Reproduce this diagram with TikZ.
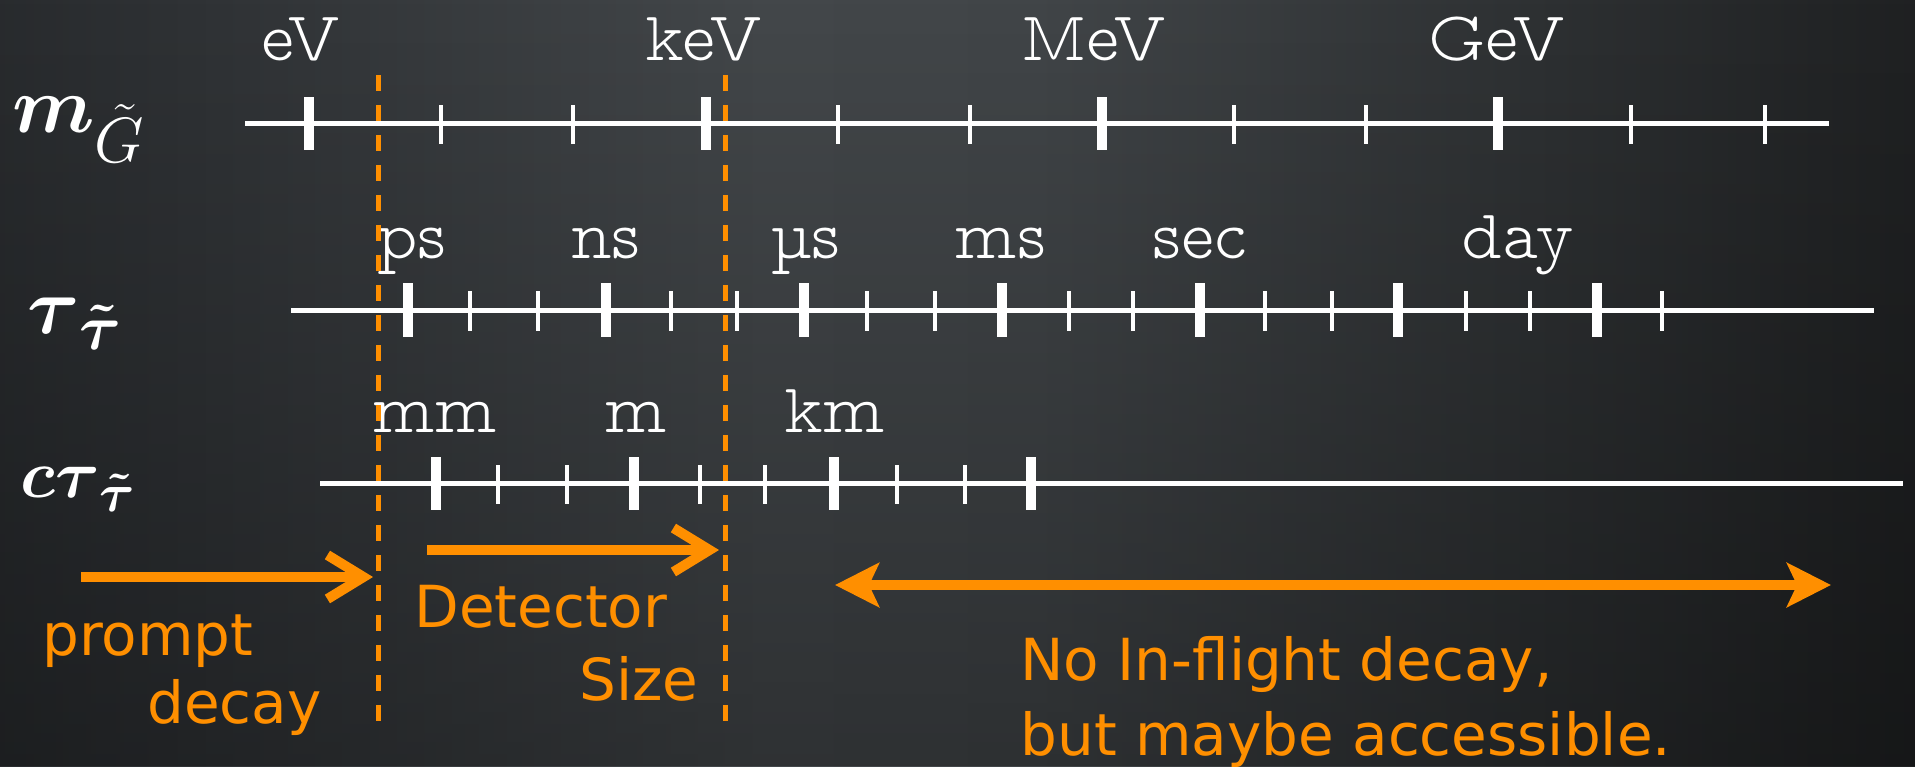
\RequirePackage{fix-cm}
\documentclass[tikz,border=0pt]{standalone}
\usepackage{amsmath}
\usepackage{fontspec}
\usetikzlibrary{arrows.meta,fadings}
\newfontfamily\handfont{DejaVu Sans}
\newfontfamily\unitfont{lmmonoproplt10-regular.otf}
\DeclareMathSizes{40}{40}{32}{22}
\DeclareMathSizes{34}{34}{27}{19}
\definecolor{bgA}{HTML}{111213}
\definecolor{bgB}{HTML}{1C1E20}
\definecolor{bgC}{HTML}{2F3235}
\definecolor{bgD}{HTML}{43474A}
\definecolor{bgE}{HTML}{414548}
\definecolor{bgF}{HTML}{2E3133}
\definecolor{bgG}{HTML}{18191A}
\definecolor{bgH}{HTML}{0A0A0B}
\pgfdeclarehorizontalshading{bgshade}{100bp}{color(0bp)=(bgA); color(15bp)=(bgB); color(30bp)=(bgC); color(45bp)=(bgD); color(52bp)=(bgE); color(65bp)=(bgF); color(80bp)=(bgG); color(100bp)=(bgH)}
\definecolor{orng}{HTML}{FF8F00}
\tikzset{
  unitlbl/.style={text=white, font=\fontsize{35}{40}\selectfont\unitfont, anchor=base, inner sep=0pt},
  mathlbl/.style={text=white, font=\fontsize{40}{48}\selectfont, anchor=base west, inner sep=0pt},
  smallmathlbl/.style={mathlbl, font=\fontsize{34}{40}\selectfont},
  axisline/.style={white, line width=2.5pt},
  majortick/.style={white, line width=5pt},
  minortick/.style={white, line width=2pt},
  divline/.style={orng, line width=2.5pt, dash pattern=on 8pt off 7pt},
  note/.style={text=orng, font=\fontsize{29}{34}\selectfont\handfont, anchor=base west, inner sep=0pt},
  barbarrow/.style={orng, line width=5pt, -{Straight Barb[length=18pt,width=22pt,line width=5pt]}},
  bothways/.style={orng, line width=5pt, {Stealth[length=22pt,width=22pt,inset=5pt]}-{Stealth[length=22pt,width=22pt,inset=5pt]}}
}
\begin{document}
\begin{tikzpicture}[x=0.5pt, y=-0.5pt]
\useasboundingbox (0,0) rectangle (1915,766);
\shade[shading=bgshade] (0,0) rectangle (1915,766);
\fill[black, path fading=north, fill opacity=0.3] (0,0) rectangle (1915,766);

% row 1: gravitino mass
\node[mathlbl] (mG) at (12,132) {$\boldsymbol{m}_{\tilde G}$};
\draw[axisline] (245,123) coordinate (r1s) -- (1829,123) coordinate (r1e);
\foreach \x in {309,706,1102,1498} \draw[majortick] (\x,97) -- (\x,150);
\foreach \x in {441,573,838,970,1234,1366,1631,1765} \draw[minortick] (\x,105) -- (\x,144);
\node[unitlbl] (eV) at (301,60) {eV};
\node[unitlbl] (keV) at (704,60) {keV};
\node[unitlbl] (MeV) at (1094,60) {MeV};
\node[unitlbl] (GeV) at (1497,60) {GeV};

% row 2: stau lifetime
\node[mathlbl] (tau) at (27,333) {$\boldsymbol{\tau}_{\boldsymbol{\tilde\tau}}$};
\draw[axisline] (291,310) coordinate (r2s) -- (1874,310) coordinate (r2e);
\foreach \x in {408,606,804,1002,1200,1398,1597} \draw[majortick] (\x,283) -- (\x,337);
\foreach \x in {470,538,671,737,867,935,1069,1133,1265,1332,1466,1530,1662} \draw[minortick] (\x,291) -- (\x,331);
\node[unitlbl] (ps) at (412,258) {ps};
\node[unitlbl] (ns) at (606,258) {ns};
\node[unitlbl] (us) at (806,258) {µs};
\node[unitlbl] (ms) at (1001,258) {ms};
\node[unitlbl] (sec) at (1200,258) {sec};
\node[unitlbl] (day) at (1518,258) {day};

% row 3: decay length
\node[smallmathlbl] (ctau) at (20,497) {$\boldsymbol{c\tau}_{\boldsymbol{\tilde\tau}}$};
\draw[axisline] (320,483) coordinate (r3s) -- (1903,483) coordinate (r3e);
\foreach \x in {436,634,834,1031} \draw[majortick] (\x,457) -- (\x,510);
\foreach \x in {498,567,700,765,897,965} \draw[minortick] (\x,465) -- (\x,504);
\node[unitlbl] (mm) at (435,432) {mm};
\node[unitlbl] (m) at (636,432) {m};
\node[unitlbl] (km) at (835,432) {km};

% dashed dividers
\draw[divline] (378,75) coordinate (d1t) -- (378,730) coordinate (d1b);
\draw[divline] (725,75) coordinate (d2t) -- (725,730) coordinate (d2b);

% arrows
\coordinate (pa) at (81,577);
\coordinate (pb) at (373,577);
\draw[barbarrow] (pa) -- (pb);
\coordinate (da) at (427,550);
\coordinate (db) at (719,550);
\draw[barbarrow] (da) -- (db);
\coordinate (na) at (835,585);
\coordinate (nb) at (1831,585);
\draw[bothways] (na) -- (nb);

% notes
\node[note] (prompt) at (42,655) {prompt};
\node[note] (decay) at (147,723) {decay};
\node[note] (detector) at (414,627) {Detector};
\node[note] (size) at (579,700) {Size};
\node[note] (noinflight) at (1020,680) {No In-flight decay,};
\node[note] (maybe) at (1020,755) {but maybe accessible.};
\end{tikzpicture}
\end{document}
